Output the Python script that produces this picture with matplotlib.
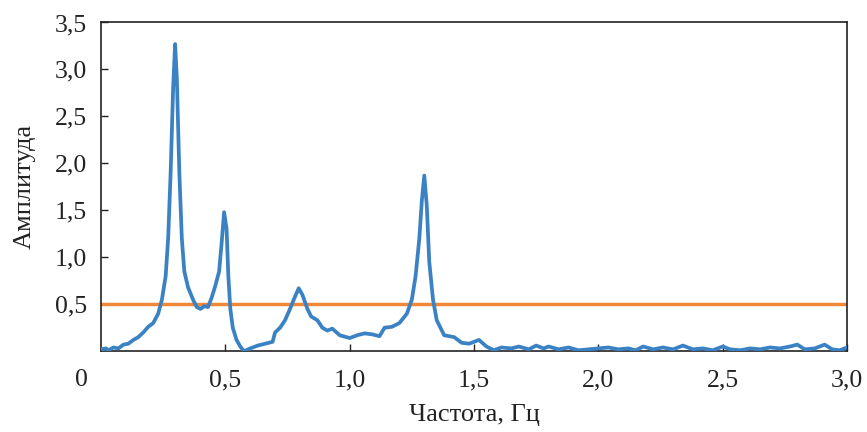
import matplotlib
matplotlib.use('Agg')
import matplotlib.pyplot as plt

# spectrum
freq = [0.00, 0.02, 0.03, 0.05, 0.07, 0.09, 0.11, 0.13, 0.15, 0.17, 0.19, 0.21,
        0.23, 0.245, 0.26, 0.27, 0.28, 0.29, 0.298, 0.305, 0.315, 0.325, 0.335,
        0.35, 0.37, 0.385, 0.40, 0.415, 0.43, 0.445, 0.46, 0.475, 0.485, 0.495,
        0.505, 0.512, 0.52, 0.53, 0.545, 0.56, 0.575, 0.60, 0.63, 0.66, 0.69,
        0.70, 0.72, 0.74, 0.76, 0.78, 0.795, 0.81, 0.83, 0.845, 0.87, 0.89,
        0.91, 0.93, 0.96, 1.00, 1.03, 1.06, 1.09, 1.12, 1.14, 1.17, 1.20, 1.23,
        1.25, 1.265, 1.28, 1.29, 1.30, 1.31, 1.32, 1.335, 1.35, 1.38, 1.42,
        1.45, 1.48, 1.52, 1.55, 1.58, 1.61, 1.65, 1.68, 1.72, 1.75, 1.78, 1.80,
        1.84, 1.88, 1.92, 1.96, 2.00, 2.04, 2.08, 2.12, 2.15, 2.18, 2.22, 2.26,
        2.30, 2.34, 2.38, 2.42, 2.46, 2.50, 2.53, 2.57, 2.61, 2.65, 2.69, 2.73,
        2.77, 2.80, 2.83, 2.87, 2.91, 2.94, 2.97, 3.00]
amp = [0.02, 0.03, 0.01, 0.04, 0.03, 0.07, 0.08, 0.12, 0.15, 0.20, 0.26, 0.30,
       0.40, 0.55, 0.80, 1.20, 1.90, 2.80, 3.27, 2.90, 1.90, 1.20, 0.85,
       0.68, 0.55, 0.47, 0.45, 0.48, 0.47, 0.57, 0.70, 0.85, 1.15, 1.48,
       1.30, 0.80, 0.45, 0.25, 0.12, 0.05, 0.00, 0.03, 0.06, 0.08, 0.10,
       0.20, 0.25, 0.33, 0.45, 0.58, 0.67, 0.60, 0.45, 0.37, 0.33, 0.25,
       0.22, 0.24, 0.17, 0.14, 0.17, 0.19, 0.18, 0.16, 0.25, 0.26, 0.30, 0.40,
       0.55, 0.80, 1.20, 1.60, 1.87, 1.55, 0.95, 0.55, 0.33, 0.17, 0.15,
       0.09, 0.08, 0.12, 0.05, 0.01, 0.04, 0.03, 0.05, 0.02, 0.06, 0.03, 0.05,
       0.02, 0.04, 0.01, 0.02, 0.03, 0.04, 0.02, 0.03, 0.01, 0.05, 0.02, 0.04,
       0.02, 0.06, 0.02, 0.03, 0.01, 0.05, 0.02, 0.01, 0.03, 0.02, 0.04, 0.03,
       0.05, 0.07, 0.02, 0.03, 0.07, 0.02, 0.01, 0.04]
threshold = 0.5

xticks = [0.5, 1.0, 1.5, 2.0, 2.5, 3.0]
yticks = [0.5, 1.0, 1.5, 2.0, 2.5, 3.0, 3.5]


def comma(v):
    return '{:.1f}'.format(v).replace('.', ',')


def main():
    plt.rcParams['font.family'] = ['Liberation Serif', 'DejaVu Serif']
    fig = plt.figure(figsize=(8.67, 4.32), dpi=100)
    ax = fig.add_axes([0.1165, 0.187, 0.8605, 0.761])

    ax.plot(freq, amp, color='#3b82c4', lw=2.7, solid_joinstyle='round',
            solid_capstyle='round', zorder=3)
    ax.axhline(threshold, color='#f0883a', lw=2.5, zorder=2)

    ax.set_xlim(0, 3.0)
    ax.set_ylim(0, 3.5)
    ax.set_xticks(xticks)
    ax.set_xticklabels([comma(v) for v in xticks])
    ax.set_yticks(yticks)
    ax.set_yticklabels([comma(v) for v in yticks])
    ax.tick_params(direction='in', length=5, width=1, colors='#222222',
                   labelsize=18.5, labelcolor='#222222')
    ax.tick_params(axis='x', pad=13)
    ax.tick_params(axis='y', pad=10)
    ax.annotate('0', xy=(0, 0), xycoords=('data', 'axes fraction'),
                xytext=(-14, -13), textcoords='offset points',
                ha='center', va='top', fontsize=18.5, color='#222222')

    for s in ax.spines.values():
        s.set_linewidth(1.2)
        s.set_color('#222222')

    ax.set_xlabel('Частота, Гц', fontsize=19, labelpad=9, color='#222222')
    ax.set_ylabel('Амплитуда', fontsize=19, labelpad=14, color='#222222')

    fig.savefig('out.png', dpi=100)


if __name__ == '__main__':
    main()
